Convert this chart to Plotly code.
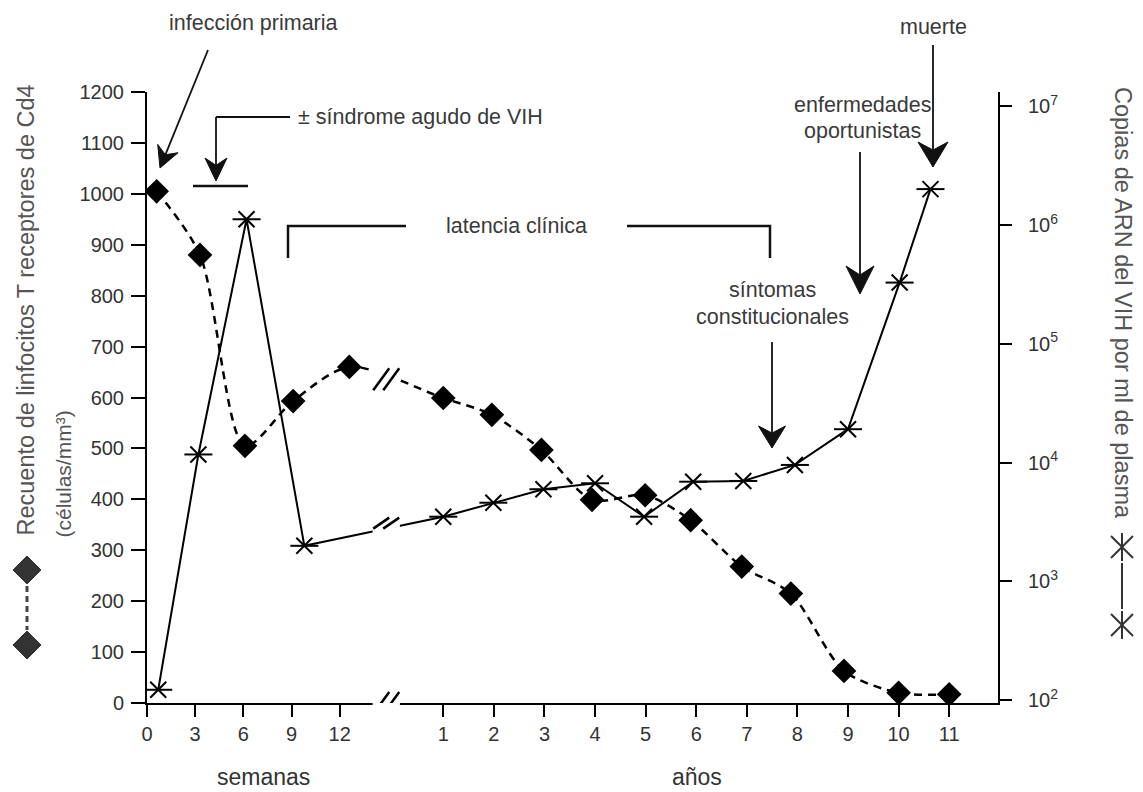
import numpy as np
import plotly.graph_objects as go

# ---------------- data ----------------
cd4_weeks = [0.6, 3.3, 6.1, 9.1, 12.6]
cd4_weeks_values = [1005, 880, 505, 593, 660]
cd4_years = [1.0, 1.96, 2.94, 3.94, 4.99, 5.89, 6.90, 7.87, 8.92, 10.0, 11.0]
cd4_years_values = [599, 566, 497, 399, 408, 359, 268, 215, 63, 20, 17]

rna_weeks = [0.7, 3.2, 6.2, 9.8]
rna_weeks_values = [122, 11700, 1.12e6, 1990]
rna_years = [1.0, 1.99, 2.98, 4.0, 4.97, 5.94, 6.93, 7.95, 9.0, 10.02, 10.63]
rna_years_values = [3500, 4590, 5960, 6690, 3500, 6900, 7000, 9550, 19100, 328000, 2.01e6]

week_ticks = [0, 3, 6, 9, 12]
year_ticks = [1, 2, 3, 4, 5, 6, 7, 8, 9, 10, 11]
cd4_ticks = [0, 100, 200, 300, 400, 500, 600, 700, 800, 900, 1000, 1100, 1200]
rna_exponents = [2, 3, 4, 5, 6, 7]

# ---------------- broken time axis (weeks, then years) ----------------
YEAR_ORIGIN = 15.30   # axis position of "year 0" (in week units)
YEAR_SCALE = 3.151    # axis units per year
BREAK_X = 14.9        # centre of the axis break


def ypos(years):
    return [YEAR_ORIGIN + YEAR_SCALE * y for y in years]


W, H = 1143, 792
ML, MR, MT, MB = 147, 145, 92, 89
PW, PH = W - ML - MR, H - MT - MB


def px(x):
    return (x - ML) / PW


def py(y):
    return (H - MB - y) / PH


SANS = "Liberation Sans, Arial, sans-serif"
TICK_FONT = dict(family=SANS, size=20, color="#333")
ANN_FONT = dict(family=SANS, size=21.5, color="#3a3a3a")
TITLE_FONT = dict(family=SANS, size=23.5, color="#555")

cd4_x = cd4_weeks + ypos(cd4_years)
cd4_y = cd4_weeks_values + cd4_years_values
rna_x = rna_weeks + ypos(rna_years)
rna_y = rna_weeks_values + rna_years_values

fig = go.Figure()
fig.add_trace(go.Scatter(x=cd4_x, y=cd4_y, mode="lines",
                         line=dict(color="black", width=2.5, dash="8px,6px", shape="spline", smoothing=0.8),
                         hoverinfo="skip", showlegend=False))
fig.add_trace(go.Scatter(x=cd4_x, y=cd4_y, mode="markers",
                         marker=dict(symbol="diamond", size=19, color="black"),
                         showlegend=False))
fig.add_trace(go.Scatter(x=rna_x, y=rna_y, mode="lines", yaxis="y2",
                         line=dict(color="black", width=2),
                         hoverinfo="skip", showlegend=False))
fig.add_trace(go.Scatter(x=rna_x, y=rna_y, mode="markers", yaxis="y2",
                         marker=dict(symbol="x-thin-open", size=16, color="black",
                                     line=dict(color="black", width=2)),
                         showlegend=False))
fig.add_trace(go.Scatter(x=rna_x, y=rna_y, mode="markers", yaxis="y2",
                         marker=dict(symbol="line-ew-open", size=20, color="black",
                                     line=dict(color="black", width=2)),
                         showlegend=False))

shapes = []
# white gap for the axis break
shapes.append(dict(type="rect", xref="x", yref="paper", x0=14.05, x1=15.75, y0=-0.012, y1=0.58,
                   fillcolor="white", line=dict(width=0), layer="above"))

cd4_cross = float(np.interp(BREAK_X, [cd4_weeks[-1], ypos(cd4_years)[0]],
                            [cd4_weeks_values[-1], cd4_years_values[0]]))
rna_cross = float(10 ** np.interp(BREAK_X, [rna_weeks[-1], ypos(rna_years)[0]],
                                  [np.log10(rna_weeks_values[-1]), np.log10(rna_years_values[0])]))

for yref, yval in [("y", 0), ("y", cd4_cross), ("y2", rna_cross)]:
    for off in (-5, 5):
        shapes.append(dict(type="line", xref="x", yref=yref, xsizemode="pixel", ysizemode="pixel",
                           xanchor=BREAK_X, yanchor=yval,
                           x0=off - 8, x1=off + 8, y0=-11, y1=11,
                           line=dict(color="black", width=2.5), layer="above"))

# acute syndrome: elbow + bar
shapes.append(dict(type="line", xref="paper", yref="paper", x0=px(216), x1=px(290), y0=py(117), y1=py(117),
                   line=dict(color="#111", width=2)))
shapes.append(dict(type="line", xref="paper", yref="paper", x0=px(193), x1=px(248), y0=py(186), y1=py(186),
                   line=dict(color="#111", width=2.5)))
# clinical latency bracket
shapes.append(dict(type="path", xref="paper", yref="paper",
                   path=f"M {px(288)},{py(258)} L {px(288)},{py(226)} L {px(406)},{py(226)}",
                   line=dict(color="#111", width=2.5)))
shapes.append(dict(type="path", xref="paper", yref="paper",
                   path=f"M {px(627)},{py(226)} L {px(770)},{py(226)} L {px(770)},{py(258)}",
                   line=dict(color="#111", width=2.5)))

# left legend glyph: diamond - - diamond
for yy in (570, 645):
    shapes.append(dict(type="path", xref="paper", yref="paper", xsizemode="pixel", ysizemode="pixel",
                       xanchor=px(27), yanchor=py(yy),
                       path="M 0,14 L 14,0 L 0,-14 L -14,0 Z",
                       fillcolor="#333", line=dict(color="#333", width=1)))
shapes.append(dict(type="line", xref="paper", yref="paper", x0=px(27), x1=px(27), y0=py(586), y1=py(630),
                   line=dict(color="#444", width=3, dash="6px,4px")))

# right legend glyph: star - star
for yy in (547, 625):
    shapes.append(dict(type="line", xref="paper", yref="paper", xsizemode="pixel", ysizemode="pixel",
                       xanchor=px(1122), yanchor=py(yy), x0=0, x1=0, y0=-14, y1=14,
                       line=dict(color="#333", width=2)))
    for s in (-1, 1):
        shapes.append(dict(type="line", xref="paper", yref="paper", xsizemode="pixel", ysizemode="pixel",
                           xanchor=px(1122), yanchor=py(yy), x0=-11, x1=11, y0=-11 * s, y1=11 * s,
                           line=dict(color="#333", width=2)))
shapes.append(dict(type="line", xref="paper", yref="paper", x0=px(1122), x1=px(1122), y0=py(563), y1=py(609),
                   line=dict(color="#333", width=2)))


def arrow(tip, tail, head_len=24, head_w=26, notch=0.32, width=1.8):
    tip = np.array(tip, float)
    tail = np.array(tail, float)
    d = tip - tail
    d /= np.linalg.norm(d)
    n = np.array([-d[1], d[0]])
    stem_end = tip - d * head_len * 0.6
    shapes.append(dict(type="line", xref="paper", yref="paper",
                       x0=px(tail[0]), y0=py(tail[1]), x1=px(stem_end[0]), y1=py(stem_end[1]),
                       line=dict(color="#111", width=width)))
    base = tip - d * head_len
    pts = [tip, base + n * head_w / 2, tip - d * head_len * (1 - notch), base - n * head_w / 2]
    rel = [(p[0] - tip[0], -(p[1] - tip[1])) for p in pts]
    path = "M " + " L ".join(f"{a:.2f},{b:.2f}" for a, b in rel) + " Z"
    shapes.append(dict(type="path", xref="paper", yref="paper", xsizemode="pixel", ysizemode="pixel",
                       xanchor=px(tip[0]), yanchor=py(tip[1]), path=path,
                       fillcolor="#111", line=dict(color="#111", width=1)))


arrow((160, 168), (208, 50), head_len=21, head_w=22)
arrow((216, 181), (216, 117), head_len=23, head_w=22)
arrow((772, 448), (772, 342), head_len=22, head_w=27)
arrow((860, 294), (860, 152), head_len=28, head_w=28)
arrow((933, 167), (933, 45), head_len=25, head_w=30)

annotations = []


def text(t, x, y, font=ANN_FONT, xanchor="center", angle=0, yanchor="middle"):
    annotations.append(dict(text=t, x=px(x), y=py(y), xref="paper", yref="paper", showarrow=False,
                            font=font, xanchor=xanchor, yanchor=yanchor, textangle=angle))


text("infección primaria", 253, 23)
text("± síndrome agudo de VIH", 296, 117, xanchor="left")
text("latencia clínica", 516, 226)
text("síntomas", 772, 290)
text("constitucionales", 772, 317)
text("enfermedades", 862, 105)
text("oportunistas", 862, 131)
text("muerte", 933, 27)

text("semanas", 263, 777, font=dict(family=SANS, size=23, color="#333"))
text("años", 697, 777, font=dict(family=SANS, size=23, color="#333"))

text("Recuento de linfocitos T receptores de Cd4", 25, 538, font=TITLE_FONT, angle=-90, yanchor="bottom")
text("(células/mm³)", 63, 540, font=dict(family=SANS, size=21, color="#555"),
     angle=-90, yanchor="bottom")
text("Copias de ARN del VIH por ml de plasma", 1123, 85, font=TITLE_FONT, angle=90, yanchor="top")

fig.update_layout(
    width=W, height=H,
    margin=dict(l=ML, r=MR, t=MT, b=MB),
    paper_bgcolor="white", plot_bgcolor="white",
    showlegend=False,
    xaxis=dict(range=[0, 53.0], showgrid=False, zeroline=False,
               showline=True, linecolor="black", linewidth=2,
               ticks="outside", ticklen=12, tickwidth=2, tickcolor="black",
               tickvals=week_ticks + ypos(year_ticks),
               ticktext=[str(v) for v in week_ticks] + [str(v) for v in year_ticks],
               tickfont=TICK_FONT),
    yaxis=dict(range=[0, 1200], showgrid=False, zeroline=False,
               showline=True, linecolor="black", linewidth=2,
               ticks="outside", ticklen=14, tickwidth=2, tickcolor="black",
               tickvals=cd4_ticks, ticktext=[str(v) for v in cd4_ticks],
               ticklabelstandoff=3,
               tickfont=TICK_FONT),
    yaxis2=dict(overlaying="y", side="right", type="log", range=[1.975, 7.121],
                showgrid=False, zeroline=False,
                showline=True, linecolor="black", linewidth=2,
                ticks="outside", ticklen=12, tickwidth=2, tickcolor="black",
                tickvals=[10 ** e for e in rna_exponents],
                ticktext=[f"10<sup>{e}</sup>" for e in rna_exponents],
                ticklabelstandoff=12,
                tickfont=TICK_FONT),
    shapes=shapes,
    annotations=annotations,
)

fig.write_html("out.html", config={"displayModeBar": False},
               post_script="document.body.style.margin='0px';")
